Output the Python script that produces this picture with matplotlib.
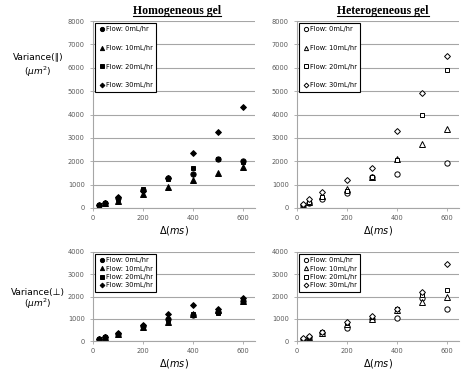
import matplotlib
matplotlib.use("Agg")
import matplotlib.pyplot as plt
import numpy as np

# Delta (ms)
delta = [25, 50, 100, 200, 300, 400, 500, 600]
flows = ["Flow: 0mL/hr", "Flow: 10mL/hr", "Flow: 20mL/hr", "Flow: 30mL/hr"]
markers = ["o", "^", "s", "D"]
sizes = [3.8, 3.8, 3.5, 3.0]

# homogeneous gel, parallel variance
homo_par_0 = [115, 215, 420, 750, 1280, 1440, 2100, 2010]
homo_par_10 = [100, 200, 310, 600, 885, 1200, 1485, 1755]
homo_par_20 = [120, 225, 380, 800, 1260, 1725, 2110, 1960]
homo_par_30 = [130, 230, 460, 720, 1270, 2340, 3270, 4300]

# heterogeneous gel, parallel variance
hetero_par_0 = [120, 220, 400, 660, 1330, 1470, np.nan, 1925]
hetero_par_10 = [140, 270, 520, 830, 1320, 2090, 2740, 3380]
hetero_par_20 = [120, 250, 480, 720, 1330, 2070, 3980, 5920]
hetero_par_30 = [150, 370, 670, 1180, 1710, 3295, 4935, 6520]

# homogeneous gel, perpendicular variance
homo_perp_0 = [90, 170, 320, 680, 980, 1180, 1300, 1800]
homo_perp_10 = [100, 160, 310, 640, 870, 1200, 1400, 1780]
homo_perp_20 = [85, 175, 330, 650, 950, 1200, 1260, 1740]
homo_perp_30 = [110, 180, 340, 700, 1200, 1600, 1450, 1950]

# heterogeneous gel, perpendicular variance
hetero_perp_0 = [90, 180, 360, 590, 1000, 1020, 1920, 1440]
hetero_perp_10 = [100, 190, 380, 770, 1000, 1400, 1740, 1980]
hetero_perp_20 = [110, 200, 390, 820, 1080, 1420, 2050, 2280]
hetero_perp_30 = [120, 210, 400, 870, 1120, 1450, 2190, 3465]

W, H = 474, 376
fig = plt.figure(figsize=(W / 100, H / 100), dpi=100)

grey = "#595959"


def box(x0, y0, x1, y1):
    return [x0 / W, 1 - y1 / H, (x1 - x0) / W, (y1 - y0) / H]


def draw(ax, series, filled, ymax, spacing):
    for s, m, ms, lab in zip(series, markers, sizes, flows):
        ax.plot(delta, s, linestyle="none", marker=m, markersize=ms,
                markerfacecolor="black" if filled else "white",
                markeredgecolor="black", markeredgewidth=0.7, label=lab)
    ax.set_xlim(0, 650)
    ax.set_ylim(0, ymax)
    ax.set_xticks([0, 200, 400, 600])
    ax.set_yticks(np.arange(0, ymax + 1, 1000))
    ax.grid(axis="y", color="#a6a6a6", linewidth=0.8)
    ax.set_axisbelow(True)
    for sp in ["top", "right"]:
        ax.spines[sp].set_visible(False)
    for sp in ["left", "bottom"]:
        ax.spines[sp].set_color("#a6a6a6")
        ax.spines[sp].set_linewidth(0.8)
    ax.tick_params(labelsize=4.8, labelcolor=grey, colors="#a6a6a6",
                   length=2, width=0.6, pad=3)
    ax.tick_params(axis="y", pad=4)
    leg = ax.legend(loc="upper left", fontsize=4.8, frameon=True,
                    fancybox=False, edgecolor="black", framealpha=1,
                    handletextpad=0.1, handlelength=1.0, borderpad=0.5,
                    labelspacing=spacing, borderaxespad=0.3, markerscale=0.8)
    leg.get_frame().set_linewidth(0.8)
    ax.set_xlabel(r"$\Delta(ms)$", fontsize=7, labelpad=2)


ax1 = fig.add_axes(box(93, 21, 255, 208))
draw(ax1, [homo_par_0, homo_par_10, homo_par_20, homo_par_30], True, 8000, 1.9)
ax2 = fig.add_axes(box(297, 21, 459, 208))
draw(ax2, [hetero_par_0, hetero_par_10, hetero_par_20, hetero_par_30], False, 8000, 1.9)
ax3 = fig.add_axes(box(93, 252, 255, 341))
draw(ax3, [homo_perp_0, homo_perp_10, homo_perp_20, homo_perp_30], True, 4000, 0.35)
ax4 = fig.add_axes(box(297, 252, 459, 341))
draw(ax4, [hetero_perp_0, hetero_perp_10, hetero_perp_20, hetero_perp_30], False, 4000, 0.35)

# y labels
fig.text(38 / W, 1 - 57 / H, "Variance(\u2225)", fontsize=6.5, ha="center", va="center")
fig.text(38 / W, 1 - 72 / H, r"($\mu m^2$)", fontsize=6.5, ha="center", va="center")
fig.text(38 / W, 1 - 292 / H, "Variance(\u22a5)", fontsize=6.5, ha="center", va="center")
fig.text(38 / W, 1 - 304 / H, r"($\mu m^2$)", fontsize=6.5, ha="center", va="center")

# titles with underline
titles = []
for x, t in [(177, "Homogeneous gel"), (383, "Heterogeneous gel")]:
    titles.append(fig.text(x / W, 1 - 11 / H, t, fontsize=8.5, fontweight="bold",
                           family="Liberation Serif", ha="center", va="center"))
fig.canvas.draw()
r = fig.canvas.get_renderer()
for t in titles:
    bb = t.get_window_extent(r).transformed(fig.transFigure.inverted())
    fig.add_artist(plt.Line2D([bb.x0, bb.x1], [bb.y0 + 0.002, bb.y0 + 0.002],
                              color="black", linewidth=0.8,
                              transform=fig.transFigure))

fig.savefig("out.png", dpi=100)
